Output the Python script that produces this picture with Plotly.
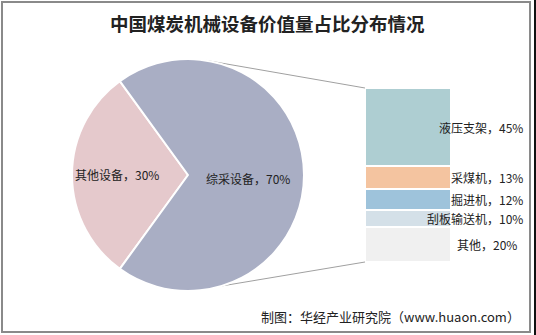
import math
import plotly.graph_objects as go

# ---- data ----
title = "中国煤炭机械设备价值量占比分布情况"
source = "制图：华经产业研究院（www.huaon.com）"
pie_labels = ["其他设备", "综采设备"]
pie_values = [30, 70]
pie_colors = ["#E5C9CC", "#A9AEC4"]

bar_labels = ["液压支架", "采煤机", "掘进机", "刮板输送机", "其他"]
bar_values = [45, 13, 12, 10, 20]
bar_colors = ["#AECED2", "#F4C4A0", "#9EC3DB", "#D4E0E8", "#F0F0F0"]

W, H = 536, 335
# pie geometry (pixels)
cx, cy, r = 188, 175, 116
# bar geometry (pixels)
bx0, bx1, by_top, by_bot = 365, 451, 88, 262

fig = go.Figure()

fig.add_trace(go.Pie(
    labels=pie_labels, values=pie_values, sort=False, direction="clockwise",
    rotation=216, marker=dict(colors=pie_colors, line=dict(color="white", width=2)),
    textinfo="none", hoverinfo="label+percent", showlegend=False,
    domain=dict(x=[(cx - r) / W, (cx + r) / W], y=[(H - cy - r) / H, (H - cy + r) / H]),
))

# stacked bar from bottom: reverse order
total = sum(bar_values)
for lab, val, col in list(zip(bar_labels, bar_values, bar_colors))[::-1]:
    fig.add_trace(go.Bar(
        x=[0], y=[val], name=lab, marker=dict(color=col, line=dict(color="white", width=2.5)),
        width=1, xaxis="x2", yaxis="y2", showlegend=False, hoverinfo="name+y",
    ))

fig.update_layout(
    width=W, height=H, margin=dict(l=0, r=0, t=0, b=0),
    paper_bgcolor="white", plot_bgcolor="rgba(0,0,0,0)", barmode="stack", bargap=0,
    xaxis=dict(visible=False), yaxis=dict(visible=False),
    xaxis2=dict(domain=[bx0 / W, bx1 / W], range=[-0.5, 0.5], visible=False, anchor="y2", fixedrange=True),
    yaxis2=dict(domain=[1 - by_bot / H, 1 - by_top / H], range=[0, total], visible=False, anchor="x2", fixedrange=True),
)

ann = []
ann.append(dict(text="<b>" + title + "</b>", x=267 / W, y=1 - 23 / H, xref="paper", yref="paper",
                xanchor="center", yanchor="middle",
                showarrow=False, font=dict(family="Noto Sans CJK SC", size=18.5, color="#222")))
pie_pos = [(117, 175), (248, 178)]
for (px, py), lab, v in zip(pie_pos, pie_labels, pie_values):
    ann.append(dict(text=f"{lab}，{v}%", x=px / W, y=1 - py / H, xref="paper", yref="paper",
                    xanchor="center", yanchor="middle",
                    showarrow=False, font=dict(family="Noto Sans CJK SC", size=12, color="#222")))

# bar labels at segment centers (top-down cumulative)
cum = total
right_px = [525, 525, 525, 525, 519]
for lab, val, rp in zip(bar_labels, bar_values, right_px):
    mid = cum - val / 2
    cum -= val
    ann.append(dict(text=f"{lab}，{val}%", x=rp / W, y=mid, xref="paper", yref="y2",
                    xanchor="right", yanchor="middle", showarrow=False,
                    font=dict(family="Noto Sans CJK SC", size=12, color="#222")))

ann.append(dict(text=source, x=522 / W, y=1 - 316 / H, xref="paper", yref="paper",
                xanchor="right", yanchor="middle",
                showarrow=False, font=dict(family="Noto Sans CJK SC", size=13, color="#222")))
fig.update_layout(annotations=ann)

# connector lines from pie edge to bar corners
def circ(deg_cw_from_top):
    a = math.radians(deg_cw_from_top)
    return cx + r * math.sin(a), cy - r * math.cos(a)

shapes = []
for ang, byp in [(9, by_top), (163, by_bot)]:
    px, py = circ(ang)
    shapes.append(dict(type="line", xref="paper", yref="paper", x0=px / W, y0=1 - py / H,
                       x1=bx0 / W, y1=1 - byp / H, line=dict(color="#A0A0A0", width=1), layer="below"))
# outer frame
shapes.append(dict(type="rect", xref="paper", yref="paper", x0=2 / W, y0=1 - 332 / H, x1=530 / W, y1=1 - 2 / H,
                   line=dict(color="#8A8A8A", width=2)))
shapes.append(dict(type="rect", xref="paper", yref="paper", x0=534 / W, y0=0, x1=1, y1=1,
                   line=dict(width=0), fillcolor="#111"))
fig.update_layout(shapes=shapes)

fig.write_html("out.html")
